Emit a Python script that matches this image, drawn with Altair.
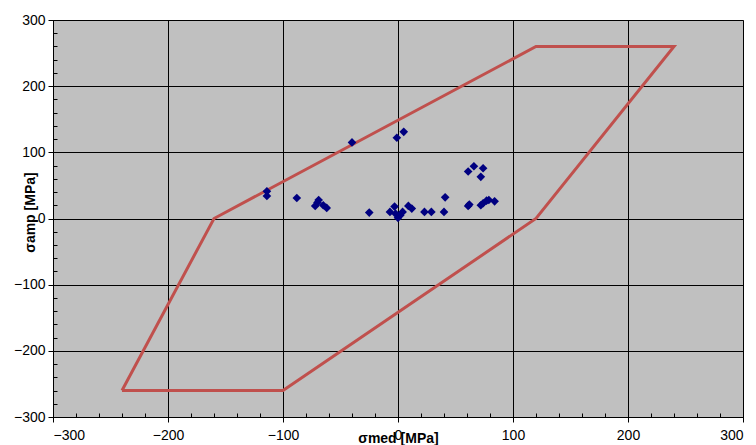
import altair as alt
import pandas as pd

# scatter data (sigma_med, sigma_amp)
pt_x = [-114, -114, -88, -40, -1, 5,
        -72, -70, -69, -65, -62,
        -25, -7, -3, 0, -2, 2, 4, 9, 12, 23, 29, 40, 41,
        61, 62, 61, 66, 74, 72,
        72, 74, 77, 79, 84]
pt_y = [41, 34, 31, 115, 122, 131,
        19, 24, 28, 20, 16,
        9, 10, 18, 1, 7, 5, 10, 19, 15, 10, 10, 10, 32,
        19, 21, 71, 79, 76, 63,
        20, 23, 27, 28, 26]

# limit polygon
poly_x = [-240, -100, 120, 240, 120, -160, -240]
poly_y = [-260, -260, 0, 260, 260, 0, -260]

major = [-300, -200, -100, 0, 100, 200, 300]
minor = list(range(-300, 301, 20))

pts = pd.DataFrame({"x": pt_x, "y": pt_y})
poly = pd.DataFrame({"x": poly_x, "y": poly_y, "o": list(range(len(poly_x)))})

xs = alt.Scale(domain=[-300, 300], nice=False, zero=False)
ys = alt.Scale(domain=[-300, 300], nice=False, zero=False)

font = "Liberation Sans"

x_axis = alt.Axis(values=major, orient="bottom", grid=True, gridColor="black", gridWidth=1,
                  domainColor="black", tickColor="black", tickSize=5,
                  labelFont=font, labelFontSize=14, labelColor="black", labelPadding=6,
                  title="σmed [MPa]", titleFont=font, titleFontSize=14, titleFontWeight="bold",
                  titleColor="black", titleX=345, titleY=21, titleBaseline="middle",
                  titleAlign="center", format="d")
y_axis = alt.Axis(values=major, orient="left", grid=True, gridColor="black", gridWidth=1,
                  domainColor="black", tickColor="black", tickSize=5,
                  labelFont=font, labelFontSize=14, labelColor="black", labelPadding=3,
                  title="σamp [MPa]", titleFont=font, titleFontSize=14, titleFontWeight="bold",
                  titleColor="black", titleX=-23, titleY=192, titleAngle=-90,
                  titleBaseline="middle", titleAlign="center", format="d")

poly_layer = alt.Chart(poly).mark_line(color="#C0504D", strokeWidth=3).encode(
    x=alt.X("x:Q", scale=xs, axis=x_axis),
    y=alt.Y("y:Q", scale=ys, axis=y_axis),
    order="o:Q",
)

pt_layer = alt.Chart(pts).mark_point(shape="diamond", filled=True, size=75,
                                     color="#000080", opacity=1).encode(
    x=alt.X("x:Q", scale=xs, axis=None),
    y=alt.Y("y:Q", scale=ys, axis=None),
)

minor_x = alt.Axis(values=minor, orient="bottom", offset=-4, tickSize=4, tickColor="black",
                   domain=False, labels=False, grid=False, title=None)
minor_y = alt.Axis(values=minor, orient="left", offset=-4, tickSize=4, tickColor="black",
                   domain=False, labels=False, grid=False, title=None)

minor_layer = alt.Chart(pts).mark_point(opacity=0).encode(
    x=alt.X("x:Q", scale=xs, axis=minor_x),
    y=alt.Y("y:Q", scale=ys, axis=minor_y),
)

chart = alt.layer(poly_layer, minor_layer, pt_layer).resolve_axis(
    x="independent", y="independent"
).properties(
    width=690, height=397,
    padding={"left": 45, "top": 12, "right": 4, "bottom": 28},
    autosize=alt.AutoSizeParams(type="none"),
    background="white",
).configure_view(
    fill="#C0C0C0", stroke="#888888", strokeWidth=1
)

chart.save("out.html", embed_options={"renderer": "svg", "actions": False})
